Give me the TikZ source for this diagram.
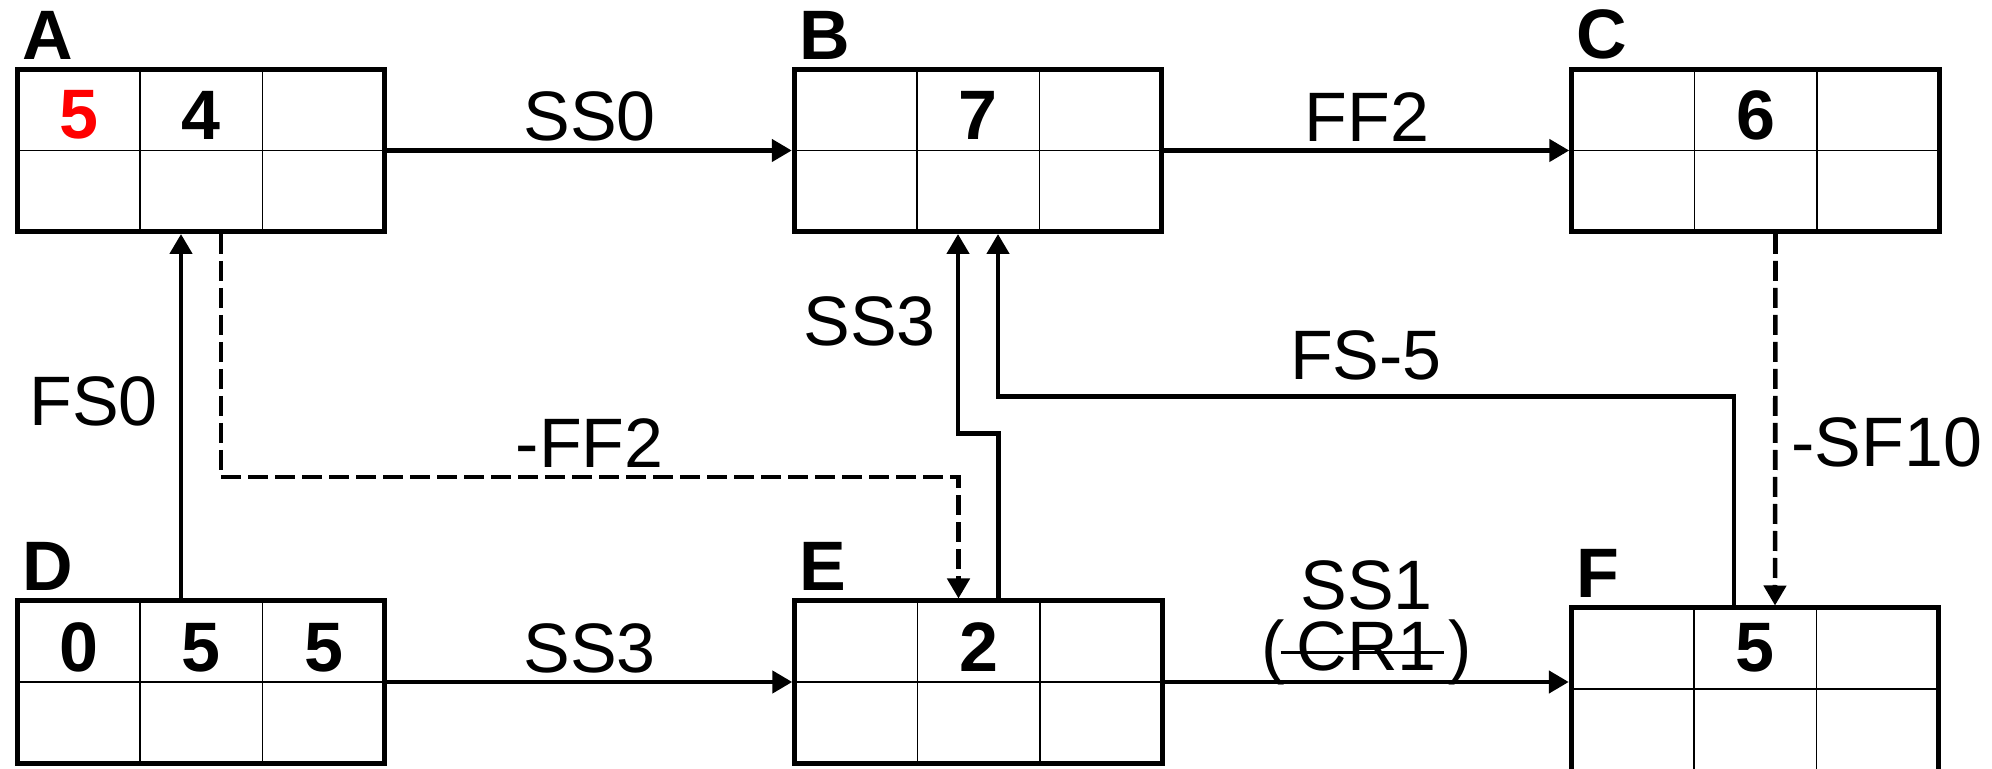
\documentclass[tikz,border=0pt]{standalone}
\usepackage{fontspec}
\setmainfont{Liberation Sans}
\usetikzlibrary{arrows.meta}

\begin{document}
\begin{tikzpicture}[x=0.5pt, y=-0.5pt,
        actbox/.style={draw, line width=2.5pt, minimum width=183.75pt, minimum height=81pt, inner sep=0pt,
            path picture={
                \draw[line width=0.75pt]
                    ([yshift=-40.5pt]path picture bounding box.north west) -- ([yshift=-40.5pt]path picture bounding box.north east)
                    ([xshift=61.25pt]path picture bounding box.north west) -- ([xshift=61.25pt]path picture bounding box.south west)
                    ([xshift=-61.25pt]path picture bounding box.north east) -- ([xshift=-61.25pt]path picture bounding box.south east);
            }},
        num/.style={font=\fontsize{35}{42}\selectfont\bfseries, inner sep=0pt},
        tag/.style={font=\fontsize{35}{42}\selectfont\bfseries, inner sep=0pt, anchor=south west},
        lbl/.style={font=\fontsize{35}{30.5}\selectfont, inner sep=3.5pt, align=center},
        link/.style={line width=2.3pt, -{Triangle[length=10pt, width=11pt]}},
        lag/.style={link, dash pattern=on 10pt off 3.5pt}]

        \useasboundingbox (0,0) rectangle (1992,769);

        % Activity boxes
        \node[actbox] (A) at (201,150.5) {};
        \node[actbox] (B) at (978,150.5) {};
        \node[actbox] (C) at (1755.5,150.5) {};
        \node[actbox] (D) at (201,682) {};
        \node[actbox] (E) at (978.5,682) {};
        \node[actbox, minimum height=85pt] (F) at (1755,693) {};

        % Activity names
        \node[tag] (A-tag) at ([xshift=3.5pt, yshift=3.5pt]A.north west) {A};
        \node[tag] (B-tag) at ([xshift=3.5pt, yshift=3.5pt]B.north west) {B};
        \node[tag] (C-tag) at ([xshift=3.5pt, yshift=3.5pt]C.north west) {C};
        \node[tag] (D-tag) at ([xshift=3.5pt, yshift=4pt]D.north west) {D};
        \node[tag] (E-tag) at ([xshift=3.5pt, yshift=4pt]E.north west) {E};
        \node[tag] (F-tag) at ([xshift=3.5pt, yshift=4pt]F.north west) {F};

        % Values in the top row
        \node[num, red] (A-es) at ([xshift=-61.25pt, yshift=-24pt]A.north) {5};
        \node[num] (A-du) at ([yshift=-24pt]A.north) {4};
        \node[num] (B-du) at ([yshift=-24pt]B.north) {7};
        \node[num] (C-du) at ([yshift=-24pt]C.north) {6};
        \node[num] (D-es) at ([xshift=-61.25pt, yshift=-24.5pt]D.north) {0};
        \node[num] (D-du) at ([yshift=-24.5pt]D.north) {5};
        \node[num] (D-ef) at ([xshift=61.25pt, yshift=-24.5pt]D.north) {5};
        \node[num] (E-du) at ([yshift=-24.5pt]E.north) {2};
        \node[num] (F-du) at ([yshift=-21pt]F.north) {5};

        % Links along the rows
        \draw[link] (A) -- node[lbl, above] {SS0} (B);
        \draw[link] (B) -- node[lbl, above] {FF2} (C);
        \draw[link] (D) -- node[lbl, above] {SS3} (E);
        \draw[link] (E.east) -- node[lbl, above, yshift=-6pt]
            {SS1\\(\rlap{\hspace{-2.25pt}\rule[8pt]{81.5pt}{1.5pt}}\,CR1\,)} (E.east -| F.west);

        % Links between the rows
        \draw[link] ([xshift=-10pt]D.north) -- node[lbl, left=7pt, pos=0.54] {FS0} ([xshift=-10pt]A.south);
        \draw[lag] ([xshift=10pt]A.south) -- ++(0,243) -| node[lbl, above, pos=0.25] {-FF2} ([xshift=-10pt]E.north);
        \draw[link] ([xshift=10pt]E.north) -- ++(0,-165) -| node[lbl, left=6.5pt, pos=0.78] {SS3} ([xshift=-10pt]B.south);
        \draw[link] ([xshift=-10.5pt]F.north) -- ++(0,-209) -| node[lbl, above=3.5pt, pos=0.25] {FS-5} ([xshift=10pt]B.south);
        \draw[lag] ([xshift=10pt]C.south) -- node[lbl, right=3.5pt, pos=0.56] {-SF10} ([xshift=10pt]F.north);

\end{tikzpicture}
\end{document}
